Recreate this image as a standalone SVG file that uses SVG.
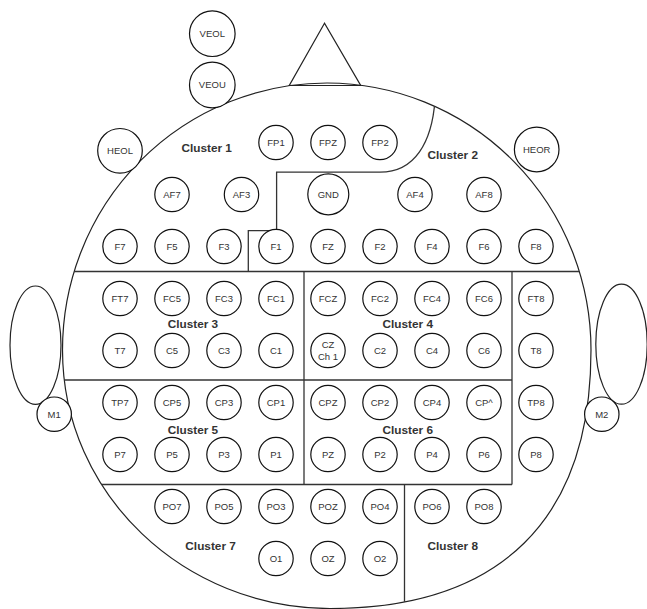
<svg xmlns="http://www.w3.org/2000/svg" width="647" height="609" viewBox="0 0 647 609">
<style>
.ln{fill:none;stroke:#222;stroke-width:1.2}
.bd{fill:none;stroke:#333;stroke-width:1.3}
.e{fill:#fff;stroke:#111;stroke-width:1.2}
.t{font-family:"Liberation Sans",Arial,sans-serif;font-size:9.5px;fill:#333;text-anchor:middle}
.c{font-family:"Liberation Sans",Arial,sans-serif;font-size:11.8px;font-weight:bold;fill:#333;text-anchor:middle}
</style>
<defs>
<clipPath id="headclip"><path d="M62.5,350 A264.5,267 0 0 1 327,83 A264.5,267 0 0 1 591,350 C591,520 500,608.5 330,608.5 C185,608.5 62.5,495 62.5,350 Z"/></clipPath>
</defs>
<rect width="647" height="609" fill="#fff"/>
<g id="ears">
<ellipse class="ln" cx="35.5" cy="345.2" rx="25.5" ry="59.2"/>
<ellipse class="ln" cx="621.5" cy="344.2" rx="25.7" ry="60"/>
</g>
<g id="head">
<path class="ln" fill="#fff" d="M62.5,350 A264.5,267 0 0 1 327,83 A264.5,267 0 0 1 591,350 C591,520 500,608.5 330,608.5 C185,608.5 62.5,495 62.5,350 Z"/>
<polygon class="ln" points="324.5,23.3 289.3,85.5 360.7,85.5"/>
</g>
<g id="connectors" clip-path="url(#headclip)">
<line class="bd" x1="40" y1="271.5" x2="620" y2="271.5"/>
<line class="bd" x1="40" y1="380" x2="512" y2="380"/>
<line class="bd" x1="40" y1="484.5" x2="512" y2="484.5"/>
<line class="bd" x1="304" y1="271.5" x2="304" y2="484.5"/>
<line class="bd" x1="512" y1="271.5" x2="512" y2="484.5"/>
<line class="bd" x1="404.5" y1="484.5" x2="404.5" y2="620"/>
<path class="bd" d="M248.3,271.5 V230.7 H276.6 V172.2 H380 C415,172.2 432,142 435,100"/>
</g>
<g id="labels">
<text class="c" x="206.7" y="151.9">Cluster 1</text>
<text class="c" x="452.8" y="159.2">Cluster 2</text>
<text class="c" x="192.9" y="328.2">Cluster 3</text>
<text class="c" x="407.8" y="328.2">Cluster 4</text>
<text class="c" x="192.9" y="433.5">Cluster 5</text>
<text class="c" x="407.8" y="433.5">Cluster 6</text>
<text class="c" x="210.6" y="549.9">Cluster 7</text>
<text class="c" x="452.8" y="549.9">Cluster 8</text>
</g>
<g id="VEOL"><circle class="e" cx="212.3" cy="33.7" r="22.8"/><text class="t" x="212.3" y="37.1">VEOL</text></g>
<g id="VEOU"><circle class="e" cx="212.3" cy="85" r="22.8"/><text class="t" x="212.3" y="88.4">VEOU</text></g>
<g id="HEOL"><circle class="e" cx="120" cy="150.8" r="22.3"/><text class="t" x="120" y="154.2">HEOL</text></g>
<g id="HEOR"><circle class="e" cx="536.7" cy="149.5" r="22.3"/><text class="t" x="536.7" y="152.9">HEOR</text></g>
<g id="M1"><circle class="e" cx="54.2" cy="414.2" r="17.2"/><text class="t" x="54.2" y="417.6">M1</text></g>
<g id="M2"><circle class="e" cx="601.8" cy="414.2" r="17.2"/><text class="t" x="601.8" y="417.6">M2</text></g>
<g id="FP1"><circle class="e" cx="276" cy="142.5" r="17.2"/><text class="t" x="276" y="145.9">FP1</text></g>
<g id="FPZ"><circle class="e" cx="328" cy="142.5" r="17.2"/><text class="t" x="328" y="145.9">FPZ</text></g>
<g id="FP2"><circle class="e" cx="380" cy="142.5" r="17.2"/><text class="t" x="380" y="145.9">FP2</text></g>
<g id="AF7"><circle class="e" cx="172" cy="194.5" r="17.2"/><text class="t" x="172" y="197.9">AF7</text></g>
<g id="AF3"><circle class="e" cx="241.5" cy="194.5" r="17.2"/><text class="t" x="241.5" y="197.9">AF3</text></g>
<g id="GND"><circle class="e" cx="328.3" cy="194.3" r="20.5"/><text class="t" x="328.3" y="197.7">GND</text></g>
<g id="AF4"><circle class="e" cx="415" cy="194.5" r="17.2"/><text class="t" x="415" y="197.9">AF4</text></g>
<g id="AF8"><circle class="e" cx="484" cy="194.5" r="17.2"/><text class="t" x="484" y="197.9">AF8</text></g>
<g id="F7"><circle class="e" cx="120" cy="246.5" r="17.2"/><text class="t" x="120" y="249.9">F7</text></g>
<g id="F5"><circle class="e" cx="172" cy="246.5" r="17.2"/><text class="t" x="172" y="249.9">F5</text></g>
<g id="F3"><circle class="e" cx="224" cy="246.5" r="17.2"/><text class="t" x="224" y="249.9">F3</text></g>
<g id="F1"><circle class="e" cx="276" cy="246.5" r="17.2"/><text class="t" x="276" y="249.9">F1</text></g>
<g id="FZ"><circle class="e" cx="328" cy="246.5" r="17.2"/><text class="t" x="328" y="249.9">FZ</text></g>
<g id="F2"><circle class="e" cx="380" cy="246.5" r="17.2"/><text class="t" x="380" y="249.9">F2</text></g>
<g id="F4"><circle class="e" cx="432" cy="246.5" r="17.2"/><text class="t" x="432" y="249.9">F4</text></g>
<g id="F6"><circle class="e" cx="484" cy="246.5" r="17.2"/><text class="t" x="484" y="249.9">F6</text></g>
<g id="F8"><circle class="e" cx="536" cy="246.5" r="17.2"/><text class="t" x="536" y="249.9">F8</text></g>
<g id="FT7"><circle class="e" cx="120" cy="298.5" r="17.2"/><text class="t" x="120" y="301.9">FT7</text></g>
<g id="FC5"><circle class="e" cx="172" cy="298.5" r="17.2"/><text class="t" x="172" y="301.9">FC5</text></g>
<g id="FC3"><circle class="e" cx="224" cy="298.5" r="17.2"/><text class="t" x="224" y="301.9">FC3</text></g>
<g id="FC1"><circle class="e" cx="276" cy="298.5" r="17.2"/><text class="t" x="276" y="301.9">FC1</text></g>
<g id="FCZ"><circle class="e" cx="328" cy="298.5" r="17.2"/><text class="t" x="328" y="301.9">FCZ</text></g>
<g id="FC2"><circle class="e" cx="380" cy="298.5" r="17.2"/><text class="t" x="380" y="301.9">FC2</text></g>
<g id="FC4"><circle class="e" cx="432" cy="298.5" r="17.2"/><text class="t" x="432" y="301.9">FC4</text></g>
<g id="FC6"><circle class="e" cx="484" cy="298.5" r="17.2"/><text class="t" x="484" y="301.9">FC6</text></g>
<g id="FT8"><circle class="e" cx="536" cy="298.5" r="17.2"/><text class="t" x="536" y="301.9">FT8</text></g>
<g id="T7"><circle class="e" cx="120" cy="350.5" r="17.2"/><text class="t" x="120" y="353.9">T7</text></g>
<g id="C5"><circle class="e" cx="172" cy="350.5" r="17.2"/><text class="t" x="172" y="353.9">C5</text></g>
<g id="C3"><circle class="e" cx="224" cy="350.5" r="17.2"/><text class="t" x="224" y="353.9">C3</text></g>
<g id="C1"><circle class="e" cx="276" cy="350.5" r="17.2"/><text class="t" x="276" y="353.9">C1</text></g>
<g id="CZ"><circle class="e" cx="328" cy="350.5" r="17.2"/><text class="t" x="328" y="347.7">CZ</text><text class="t" x="328" y="360.1">Ch 1</text></g>
<g id="C2"><circle class="e" cx="380" cy="350.5" r="17.2"/><text class="t" x="380" y="353.9">C2</text></g>
<g id="C4"><circle class="e" cx="432" cy="350.5" r="17.2"/><text class="t" x="432" y="353.9">C4</text></g>
<g id="C6"><circle class="e" cx="484" cy="350.5" r="17.2"/><text class="t" x="484" y="353.9">C6</text></g>
<g id="T8"><circle class="e" cx="536" cy="350.5" r="17.2"/><text class="t" x="536" y="353.9">T8</text></g>
<g id="TP7"><circle class="e" cx="120" cy="402.5" r="17.2"/><text class="t" x="120" y="405.9">TP7</text></g>
<g id="CP5"><circle class="e" cx="172" cy="402.5" r="17.2"/><text class="t" x="172" y="405.9">CP5</text></g>
<g id="CP3"><circle class="e" cx="224" cy="402.5" r="17.2"/><text class="t" x="224" y="405.9">CP3</text></g>
<g id="CP1"><circle class="e" cx="276" cy="402.5" r="17.2"/><text class="t" x="276" y="405.9">CP1</text></g>
<g id="CPZ"><circle class="e" cx="328" cy="402.5" r="17.2"/><text class="t" x="328" y="405.9">CPZ</text></g>
<g id="CP2"><circle class="e" cx="380" cy="402.5" r="17.2"/><text class="t" x="380" y="405.9">CP2</text></g>
<g id="CP4"><circle class="e" cx="432" cy="402.5" r="17.2"/><text class="t" x="432" y="405.9">CP4</text></g>
<g id="CP6"><circle class="e" cx="484" cy="402.5" r="17.2"/><text class="t" x="484" y="405.9">CP^</text></g>
<g id="TP8"><circle class="e" cx="536" cy="402.5" r="17.2"/><text class="t" x="536" y="405.9">TP8</text></g>
<g id="P7"><circle class="e" cx="120" cy="454.5" r="17.2"/><text class="t" x="120" y="457.9">P7</text></g>
<g id="P5"><circle class="e" cx="172" cy="454.5" r="17.2"/><text class="t" x="172" y="457.9">P5</text></g>
<g id="P3"><circle class="e" cx="224" cy="454.5" r="17.2"/><text class="t" x="224" y="457.9">P3</text></g>
<g id="P1"><circle class="e" cx="276" cy="454.5" r="17.2"/><text class="t" x="276" y="457.9">P1</text></g>
<g id="PZ"><circle class="e" cx="328" cy="454.5" r="17.2"/><text class="t" x="328" y="457.9">PZ</text></g>
<g id="P2"><circle class="e" cx="380" cy="454.5" r="17.2"/><text class="t" x="380" y="457.9">P2</text></g>
<g id="P4"><circle class="e" cx="432" cy="454.5" r="17.2"/><text class="t" x="432" y="457.9">P4</text></g>
<g id="P6"><circle class="e" cx="484" cy="454.5" r="17.2"/><text class="t" x="484" y="457.9">P6</text></g>
<g id="P8"><circle class="e" cx="536" cy="454.5" r="17.2"/><text class="t" x="536" y="457.9">P8</text></g>
<g id="PO7"><circle class="e" cx="172" cy="506.5" r="17.2"/><text class="t" x="172" y="509.9">PO7</text></g>
<g id="PO5"><circle class="e" cx="224" cy="506.5" r="17.2"/><text class="t" x="224" y="509.9">PO5</text></g>
<g id="PO3"><circle class="e" cx="276" cy="506.5" r="17.2"/><text class="t" x="276" y="509.9">PO3</text></g>
<g id="POZ"><circle class="e" cx="328" cy="506.5" r="17.2"/><text class="t" x="328" y="509.9">POZ</text></g>
<g id="PO4"><circle class="e" cx="380" cy="506.5" r="17.2"/><text class="t" x="380" y="509.9">PO4</text></g>
<g id="PO6"><circle class="e" cx="432" cy="506.5" r="17.2"/><text class="t" x="432" y="509.9">PO6</text></g>
<g id="PO8"><circle class="e" cx="484" cy="506.5" r="17.2"/><text class="t" x="484" y="509.9">PO8</text></g>
<g id="O1"><circle class="e" cx="276" cy="558.5" r="17.2"/><text class="t" x="276" y="561.9">O1</text></g>
<g id="OZ"><circle class="e" cx="328" cy="558.5" r="17.2"/><text class="t" x="328" y="561.9">OZ</text></g>
<g id="O2"><circle class="e" cx="380" cy="558.5" r="17.2"/><text class="t" x="380" y="561.9">O2</text></g>
</svg>
